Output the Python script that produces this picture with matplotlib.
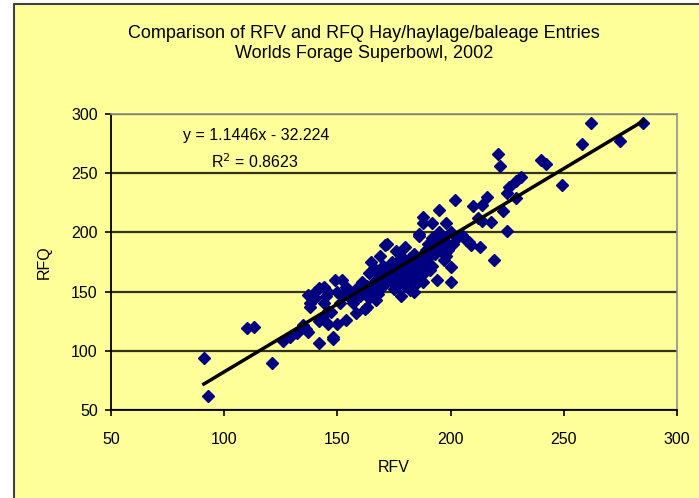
import matplotlib
matplotlib.use("Agg")
import matplotlib.pyplot as plt
from matplotlib.patches import Rectangle
from matplotlib.lines import Line2D

# RFV / RFQ values
rfv = [91, 93, 110, 113, 121, 126, 129, 132, 135, 136, 137, 138, 137, 138, 140, 142, 144,
       142, 148, 148, 142, 143, 146, 146, 145, 147, 149, 150, 151, 152, 152, 154, 154, 155,
       156, 158, 158, 160, 161, 162, 163, 164, 165, 165, 166, 167, 168, 169, 170, 170, 171,
       172, 172, 173, 174, 175, 176, 176, 177, 177, 178, 178, 179, 180, 180, 181, 182, 182,
       183, 184, 185, 185, 185, 186, 186, 187, 188, 188, 188, 189, 189, 190, 191, 191, 192,
       192, 193, 194, 195, 195, 196, 197, 198, 198, 199, 200, 200, 201, 202, 203, 205, 207,
       208, 209, 210, 212, 213, 214, 214, 216, 218, 219, 221, 222, 223, 225, 225, 226, 229,
       229, 231, 240, 242, 249, 258, 262, 275, 285,
       160, 163, 167, 171, 174, 179, 183, 187, 157, 168, 175, 181,
       166, 168, 170, 172, 174, 176, 178, 180, 182, 184, 186, 188, 190, 192, 194, 196, 198,
       200, 176, 180, 184, 188, 162, 164, 158, 150, 146, 140, 144, 169]
rfq = [94, 62, 119, 120, 90, 108, 112, 115, 122, 118, 116, 137, 147, 140, 150, 153, 154,
       107, 110, 112, 125, 128, 123, 134, 146, 133, 160, 123, 140, 147, 160, 126, 154, 150,
       144, 132, 146, 146, 158, 135, 137, 166, 175, 150, 170, 143, 148, 160, 163, 155, 189,
       190, 170, 168, 158, 152, 184, 154, 177, 160, 146, 165, 172, 188, 163, 170, 151, 158,
       168, 175, 160, 177, 157, 197, 199, 180, 208, 213, 165, 185, 168, 190, 168, 188, 208,
       172, 182, 160, 219, 200, 197, 177, 208, 180, 185, 171, 158, 190, 227, 195, 198, 194,
       192, 189, 222, 212, 188, 223, 210, 230, 209, 177, 266, 256, 218, 233, 201, 238, 229,
       243, 247, 261, 258, 240, 275, 292, 277, 292,
       150, 155, 158, 162, 165, 170, 165, 172, 140, 153, 158, 160,
       158, 165, 172, 160, 175, 168, 180, 175, 178, 182, 170, 175, 178, 195, 190, 186, 192,
       200, 162, 155, 150, 158, 150, 145, 152, 150, 150, 145, 140, 180]

slope = 1.1446
intercept = -32.224
r2 = 0.8623

fig = plt.figure(figsize=(6.99, 4.98), dpi=100)
fig.patch.set_facecolor("#FFFF99")
# white margin on the left and top, then the chart border
bx, by = 14 / 699, 1 - 4 / 498
fig.patches.append(Rectangle((0, 0), bx, 1, transform=fig.transFigure,
                             facecolor="white", edgecolor="none", zorder=-10))
fig.patches.append(Rectangle((0, by), 1, 1 - by, transform=fig.transFigure,
                             facecolor="white", edgecolor="none", zorder=-10))
fig.lines.append(Line2D([bx, bx, 1], [0, by, by], transform=fig.transFigure,
                        color="#404040", lw=1.5))

ax = fig.add_axes([111 / 699, 88 / 498, 566 / 699, 296 / 498])
ax.set_facecolor("#FFFF99")

ax.plot(rfv, rfq, linestyle="none", marker="D", ms=6.4, color="#000080", zorder=3)
xs = [min(rfv), max(rfv)]
ax.plot(xs, [slope * x + intercept for x in xs], color="black", lw=2.5, zorder=4)

ax.set_xlim(50, 300)
ax.set_ylim(50, 300)
ax.set_xticks(range(50, 301, 50))
ax.set_yticks(range(50, 301, 50))
ax.yaxis.grid(True, color="#333318", lw=1.6)
ax.set_axisbelow(True)
for s in ["top", "right"]:
    ax.spines[s].set_color("#909090")
    ax.spines[s].set_linewidth(1.2)
for s in ["left", "bottom"]:
    ax.spines[s].set_color("black")
    ax.spines[s].set_linewidth(1.3)
ax.tick_params(direction="out", length=4.5, width=1.2, labelsize=11.5, colors="black")
ax.tick_params(axis="x", pad=11)
ax.tick_params(axis="y", pad=5)
for lab in ax.get_xticklabels() + ax.get_yticklabels():
    lab.set_fontfamily("Liberation Sans")

ax.set_xlabel("RFV", fontsize=11.5, family="Liberation Sans", labelpad=10)
ax.set_ylabel("RFQ", fontsize=11.5, family="Liberation Sans", labelpad=14)

ax.text(0.257, 0.926, "y = 1.1446x - 32.224", transform=ax.transAxes, ha="center", va="center",
        fontsize=11.5, family="Liberation Sans")
ax.text(0.254, 0.84, "R$^2$ = %.4f" % r2, transform=ax.transAxes, ha="center", va="center",
        fontsize=11.5, family="Liberation Sans")

fig.text(364 / 699, 1 - 33 / 498, "Comparison of RFV and RFQ Hay/haylage/baleage Entries",
         ha="center", va="center", fontsize=13, family="Liberation Sans")
fig.text(364 / 699, 1 - 53 / 498, "Worlds Forage Superbowl, 2002",
         ha="center", va="center", fontsize=13, family="Liberation Sans")

fig.savefig("out.png", dpi=100, facecolor=fig.get_facecolor())
